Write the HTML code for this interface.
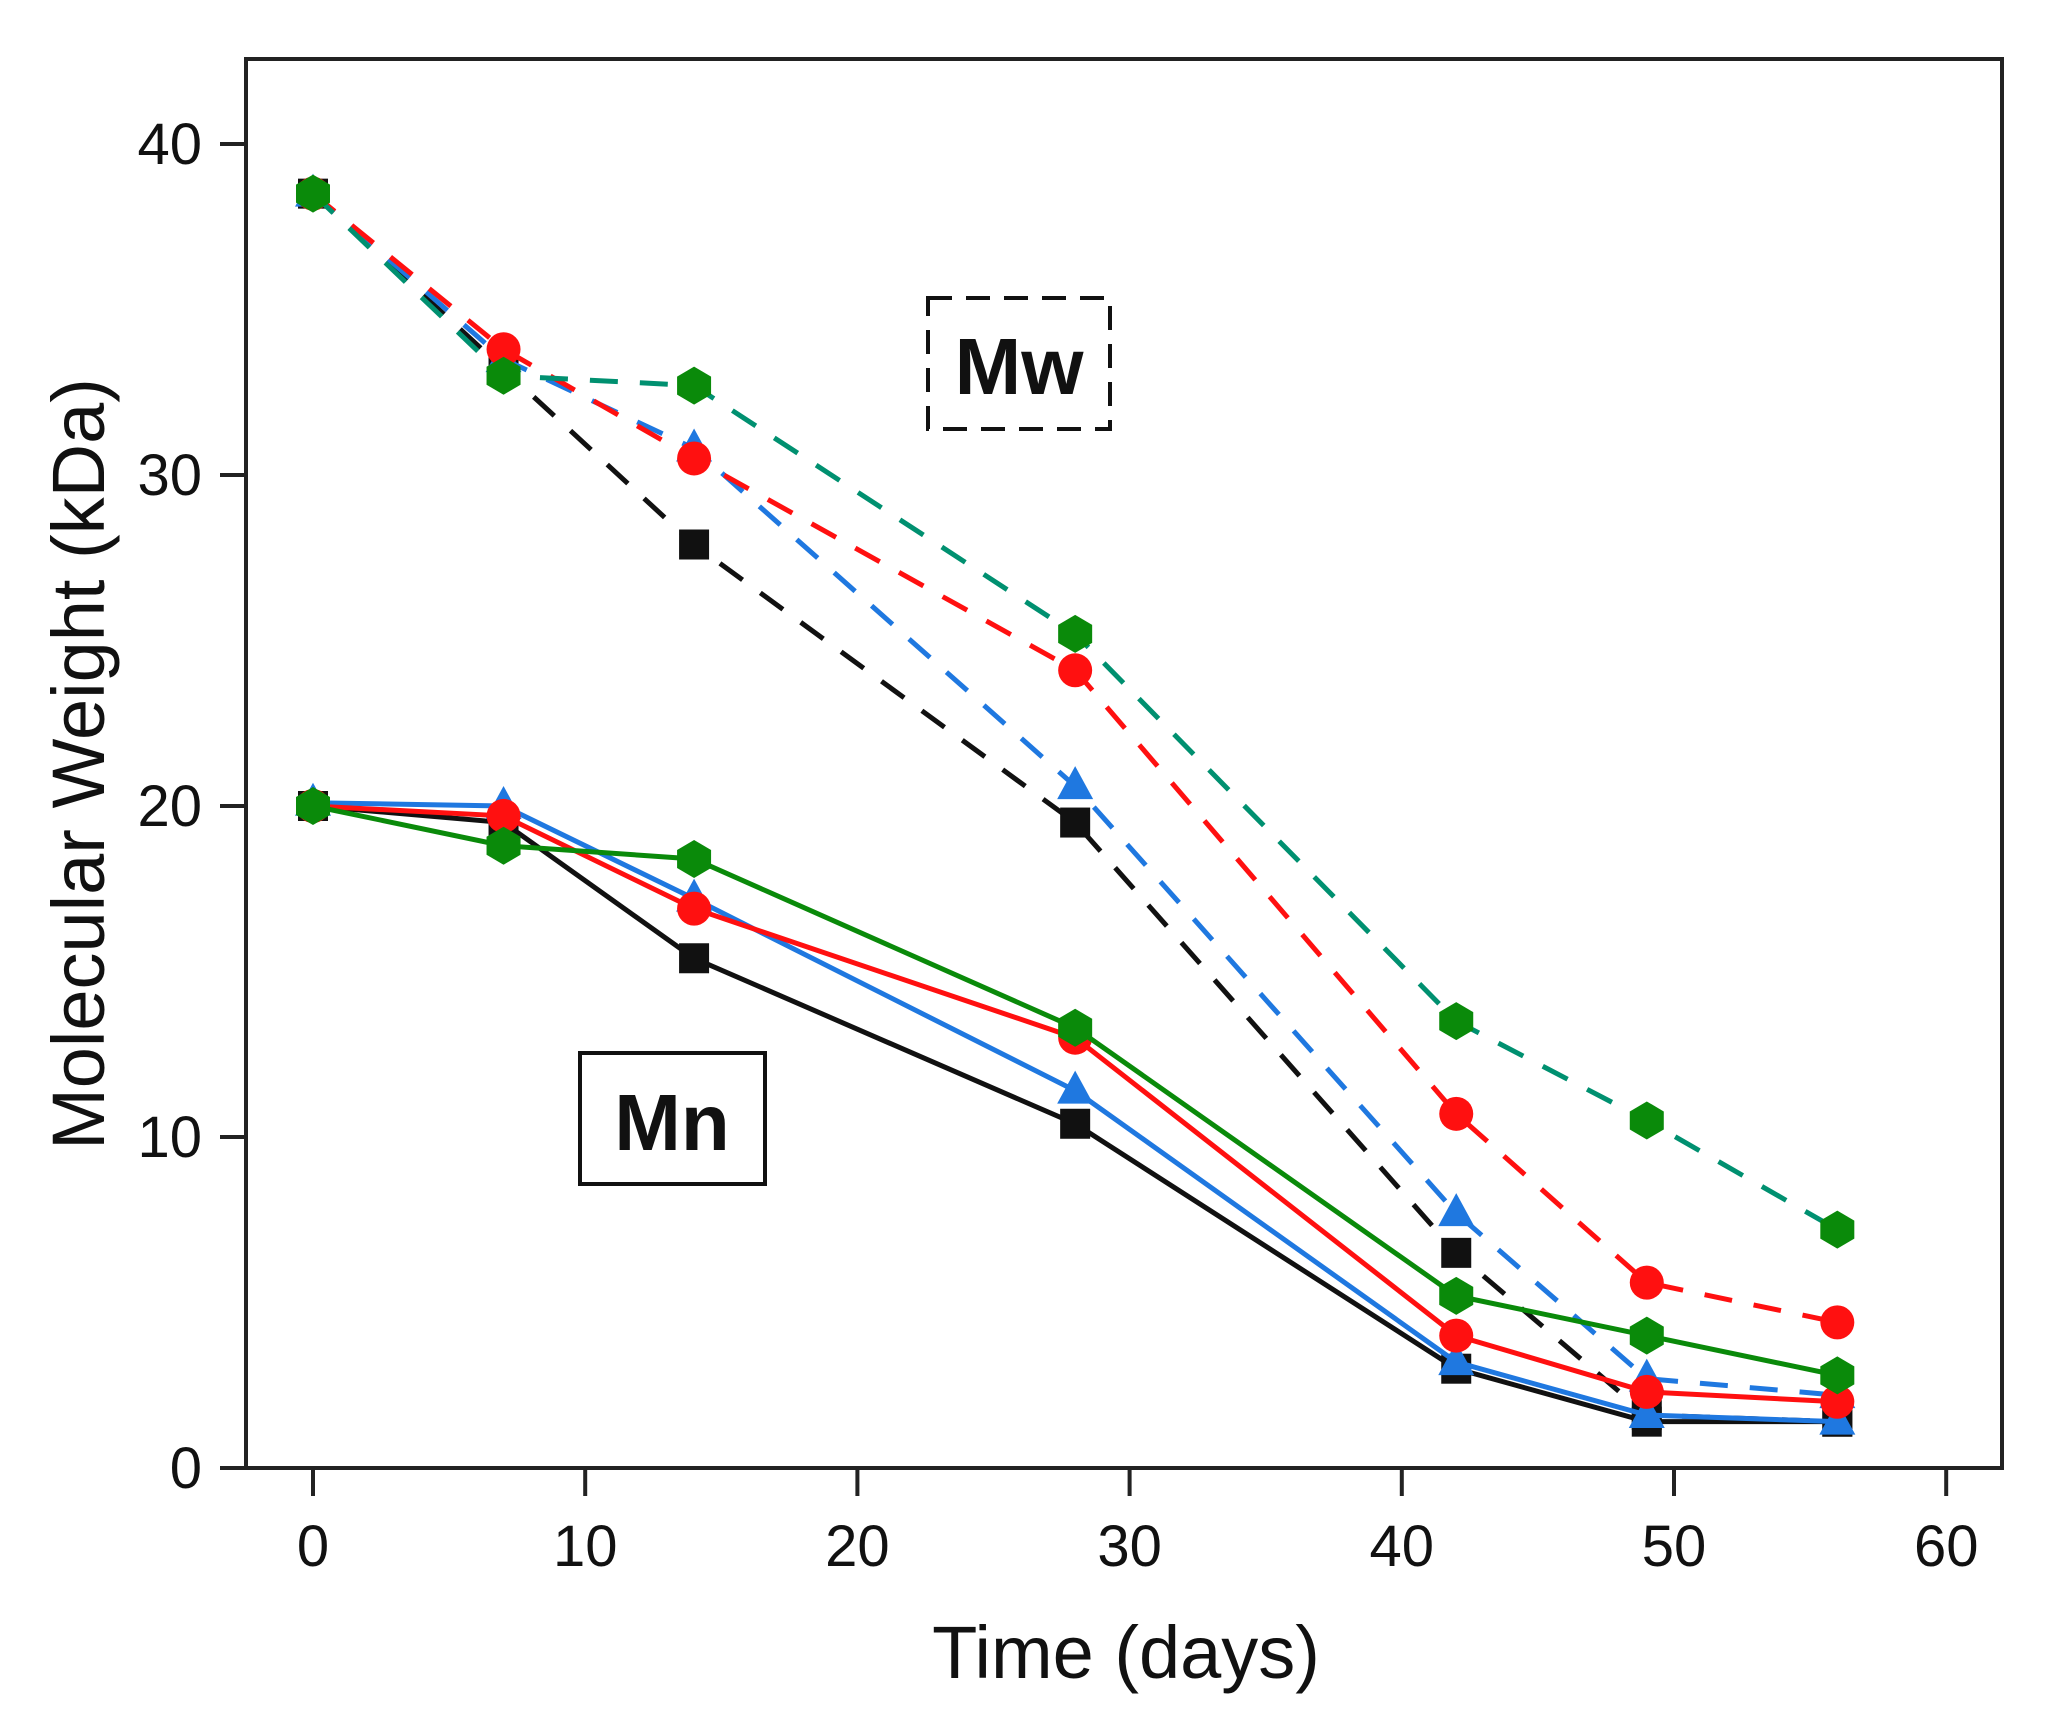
<!DOCTYPE html>
<html><head><meta charset="utf-8"><style>
html,body{margin:0;padding:0;background:#fff;}
svg{display:block;font-family:"Liberation Sans",Arial,sans-serif;}
</style></head><body>
<svg id="chart" width="2063" height="1720" viewBox="0 0 2063 1720" xmlns="http://www.w3.org/2000/svg">
<rect x="246" y="59" width="1756" height="1409" fill="#fff" stroke="#222" stroke-width="4"/>
<g id="axes"></g>
<g id="series"></g>
<rect x="928" y="298" width="182" height="131" fill="none" stroke="#111" stroke-width="4" stroke-dasharray="24,14"/>
<text x="1019" y="394" font-size="80" font-weight="bold" text-anchor="middle" fill="#111">Mw</text>
<rect x="580" y="1053" width="185" height="131" fill="none" stroke="#111" stroke-width="4"/>
<text x="672" y="1150" font-size="80" font-weight="bold" text-anchor="middle" fill="#111">Mn</text>
<text x="0" y="0" transform="translate(104,764) rotate(-90)" font-size="74" text-anchor="middle" fill="#111">Molecular Weight (kDa)</text>
<text x="1126" y="1678" font-size="74" text-anchor="middle" fill="#111">Time (days)</text>
</svg>
<script>
const days = [0, 7, 14, 28, 42, 49, 56];
const mnBlack = [20.0, 19.5, 15.4, 10.4, 3.0, 1.4, 1.4];
const mnBlue = [20.1, 20.0, 17.2, 11.4, 3.2, 1.6, 1.4];
const mnRed = [20.0, 19.7, 16.9, 13.0, 4.0, 2.3, 2.0];
const mnGreen = [20.0, 18.8, 18.4, 13.3, 5.2, 4.0, 2.8];
const mwBlack = [38.5, 33.2, 27.9, 19.5, 6.5, 1.6, 1.4];
const mwBlue = [38.5, 33.5, 30.8, 20.6, 7.7, 2.7, 2.2];
const mwRed = [38.5, 33.8, 30.5, 24.1, 10.7, 5.6, 4.4];
const mwGreen = [38.5, 33.0, 32.7, 25.2, 13.5, 10.5, 7.2];
const xTicks = [0, 10, 20, 30, 40, 50, 60];
const yTicks = [0, 10, 20, 30, 40];

const NS = "http://www.w3.org/2000/svg";
function xs(v){ return 313 + v * 27.22; }
function ys(v){ return 1468 - v * 33.1; }
function mk(tag, attrs, parent){
  const e = document.createElementNS(NS, tag);
  for (const k in attrs) e.setAttribute(k, attrs[k]);
  parent.appendChild(e);
  return e;
}
const axes = document.getElementById('axes');
xTicks.forEach(t => {
  const l = mk('line', {x1: xs(t), x2: xs(t), y1: 1468, y2: 1496, stroke: '#222', 'stroke-width': 4}, axes);
  
  
  const tx = mk('text', {x: xs(t), y: 1566, 'font-size': 58, 'text-anchor': 'middle', fill: '#111'}, axes);
  tx.textContent = t;
  
  
});
yTicks.forEach(t => {
  const l = mk('line', {x1: 220, x2: 246, y1: ys(t), y2: ys(t), stroke: '#222', 'stroke-width': 4}, axes);
  
  
  const tx = mk('text', {x: 202, y: ys(t) + 20, 'font-size': 58, 'text-anchor': 'end', fill: '#111'}, axes);
  tx.textContent = t;
  
  
});

const g = document.getElementById('series');
function marker(shape, x, y, color, parent){
  let e;
  if (shape === 'square') e = mk('rect', {x: x-15, y: y-15, width: 30, height: 30, fill: color}, parent);
  else if (shape === 'circle') e = mk('circle', {cx: x, cy: y, r: 17, fill: color}, parent);
  else if (shape === 'triangle') e = mk('polygon', {points: `${x},${y-20} ${x+18},${y+13} ${x-18},${y+13}`, fill: color}, parent);
  else e = mk('polygon', {points: `${x},${y-19} ${x+17},${y-9} ${x+17},${y+9} ${x},${y+19} ${x-17},${y+9} ${x-17},${y-9}`, fill: color}, parent);
  return e;
}
function drawSeries(name, vals, lineColor, markColor, shape, dashed){
  const grp = mk('g', {}, g);
  
  
  const pts = days.map((d,i) => xs(d) + ',' + ys(vals[i])).join(' ');
  const pl = mk('polyline', {points: pts, fill: 'none', stroke: lineColor, 'stroke-width': 5}, grp);
  if (dashed) pl.setAttribute('stroke-dasharray', '28,22');
  
  
  days.forEach((d,i) => {
    const m = marker(shape, xs(d), ys(vals[i]), markColor, grp);
    
    
  });
}
drawSeries('mw-black', mwBlack, '#111', '#111', 'square', true);
drawSeries('mw-blue', mwBlue, '#1f78e0', '#1f78e0', 'triangle', true);
drawSeries('mw-red', mwRed, '#ff1010', '#ff1010', 'circle', true);
drawSeries('mw-green', mwGreen, '#009070', '#0a8a0a', 'hexagon', true);
drawSeries('mn-black', mnBlack, '#111', '#111', 'square', false);
drawSeries('mn-blue', mnBlue, '#1f78e0', '#1f78e0', 'triangle', false);
drawSeries('mn-red', mnRed, '#ff1010', '#ff1010', 'circle', false);
drawSeries('mn-green', mnGreen, '#0a8a0a', '#0a8a0a', 'hexagon', false);
</script>
</body></html>
